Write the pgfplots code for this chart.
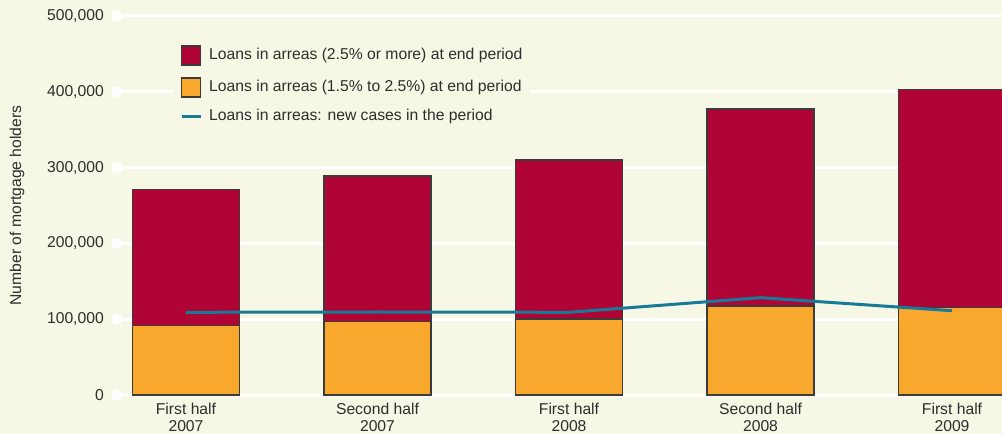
\documentclass[border=0pt]{standalone}
\usepackage{fontspec}
\setmainfont{Liberation Sans}
\usepackage{pgfplots}
\pgfplotsset{compat=1.18}

\definecolor{bg}{HTML}{F6F7E4}
\definecolor{cRed}{HTML}{B00336}
\definecolor{cOrange}{HTML}{F9A82E}
\definecolor{cTeal}{HTML}{177B97}
\definecolor{cBorder}{HTML}{3B3B3B}
\definecolor{cText}{HTML}{2E2E2E}

\pgfplotsset{
  sqleg/.style={legend image code/.code={\draw[##1] (0pt,-9.5pt) rectangle (19pt,9.5pt);}},
  lnleg/.style={legend image code/.code={\draw[##1] (0pt,0pt) -- (19pt,0pt);}},
  frame/.style={scale only axis, width=885pt, height=379pt,
    xmin=-0.3603, xmax=4.261, ymin=0, ymax=500000, enlargelimits=false},
}

\begin{document}
\begin{tikzpicture}[font=\fontsize{15.7}{17}\selectfont, text=cText]
\fill[bg] (-117pt,-39pt) rectangle (885pt,395pt);
\begin{axis}[
  frame,
  ybar stacked,
  bar width=107pt,
  axis line style={draw=none},
  major tick length=0pt,
  xtick={0,1,2,3,4},
  xticklabels={{First half\\2007},{Second half\\2007},{First half\\2008},{Second half\\2008},{First half\\2009}},
  xticklabel style={align=center, inner sep=0pt, yshift=-8pt},
  ytick={0,100000,200000,300000,400000,500000},
  scaled y ticks=false,
  yticklabel style={/pgf/number format/fixed, /pgf/number format/1000 sep={,},
    /pgf/number format/assume math mode=true, inner sep=0pt, xshift=-13pt},
  ymajorgrids,
  grid style={white, line width=3pt},
  ylabel={Number of mortgage holders},
  ylabel style={at={(axis description cs:-0.113,0.5)}, anchor=center},
  legend style={at={(0.0633,0.8187)}, anchor=west, fill=bg, draw=none,
    inner xsep=7pt, inner ysep=3pt, row sep=11.5pt,
    /tikz/every odd column/.append style={column sep=7pt},
    nodes={inner sep=0pt, text height=11.5pt, text depth=3.5pt, anchor=west}},
  legend cell align=left,
]
% orange: 1.5% to 2.5%
\addplot[fill=cOrange, draw=cBorder, line width=1.3pt, forget plot] coordinates {
  (0,92000) (1,96700) (2,100300) (3,117400) (4,115700)};
% red: 2.5% or more
\addplot[fill=cRed, draw=cBorder, line width=1.3pt, forget plot] coordinates {
  (0,179400) (1,192300) (2,209700) (3,259900) (4,287600)};
% grid dots
\addplot[stack plots=false, only marks, mark=*, mark size=5.5pt, white, forget plot] coordinates {
  (-0.3603,0) (-0.3603,100000) (-0.3603,200000) (-0.3603,300000) (-0.3603,400000) (-0.3603,500000)};

\addlegendimage{sqleg, fill=cRed, draw=cBorder, line width=1.3pt}
\addlegendentry{Loans in arreas (2.5\% or more) at end period}
\addlegendimage{sqleg, fill=cOrange, draw=cBorder, line width=1.3pt}
\addlegendentry{Loans in arreas (1.5\% to 2.5\%) at end period}
\addlegendimage{lnleg, cTeal, line width=3pt}
\addlegendentry{Loans in arreas: new cases in the period}
\end{axis}
% new cases, drawn over the bars
\begin{axis}[frame, hide axis]
\addplot[sharp plot, cTeal, line width=3pt] coordinates {
  (0,109100) (1,109500) (2,109100) (3,128400) (4,111200)};
\end{axis}
\pgfresetboundingbox
\path[use as bounding box] (-117pt,-39pt) rectangle (885pt,395pt);
\end{tikzpicture}
\end{document}
